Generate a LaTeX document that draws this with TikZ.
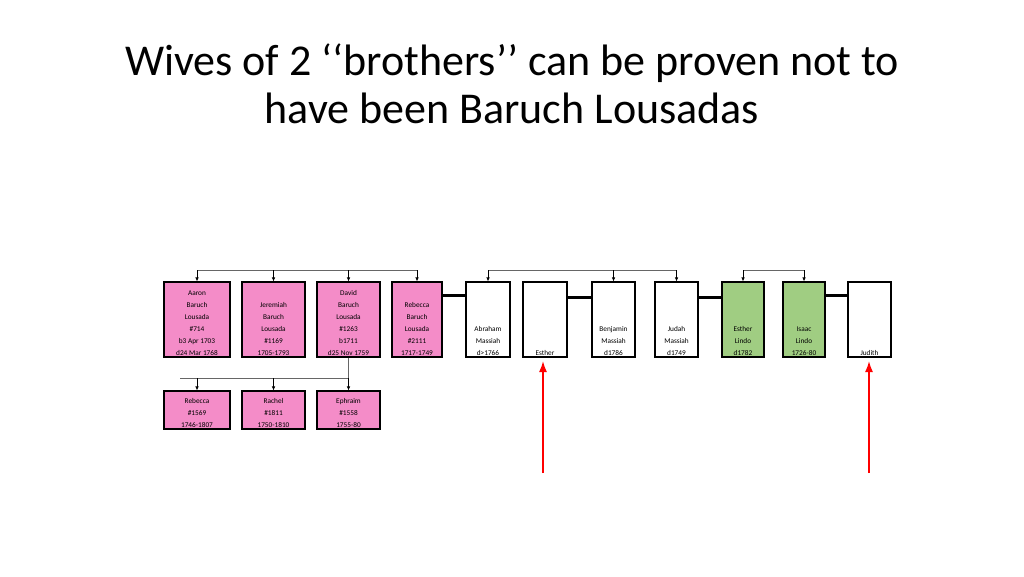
\documentclass[tikz,border=0pt]{standalone}
\usepackage{fontspec}
\setmainfont{Carlito}
\usetikzlibrary{positioning,arrows.meta}
\definecolor{lpink}{RGB}{244,140,200}
\definecolor{lgreen}{RGB}{160,205,130}
\begin{document}
\begin{tikzpicture}[x=1pt, y=-1pt,
    person/.style={rectangle, draw, line width=1.1pt, fill=lpink, minimum height=75pt, inner sep=0pt},
    plain/.style={person, fill=white},
    lindo/.style={person, fill=lgreen},
    kid/.style={person, minimum height=38pt},
    txt/.style={anchor=south, align=center, font=\fontsize{7.3}{12}\selectfont, inner sep=2pt},
    conn/.style={gray!80!black, line width=0.7pt},
    arrow/.style={conn, -{Latex[length=4pt,width=3.5pt]}, black},
    wed/.style={line width=3pt},
    pointer/.style={-{Latex[length=11pt,width=8pt]}, red, line width=1.6pt}
]
\useasboundingbox (0,0) rectangle (1024,576);
% Title
\node[font=\fontsize{44}{48}\selectfont, align=center] (title) at (512,84)
  {Wives of 2 \textquoteleft\textquoteleft brothers\textquoteright\textquoteright\ can be proven not to\\have been Baruch Lousadas};

% Baruch Lousada children
\node[person, minimum width=66pt] (aaron) at (197,319.5) {};
\node[txt] (aarontxt) at (aaron.south) {Aaron\\Baruch\\Lousada\\\#714\\b3 Apr 1703\\d24 Mar 1768};
\node[person, minimum width=63pt] (jeremiah) at (273.5,319.5) {};
\node[txt] (jeremiahtxt) at (jeremiah.south) {Jeremiah\\Baruch\\Lousada\\\#1169\\1705-1793};
\node[person, minimum width=63pt] (david) at (348.5,319.5) {};
\node[txt] (davidtxt) at (david.south) {David\\Baruch\\Lousada\\\#1263\\b1711\\d25 Nov 1759};
\node[person, minimum width=50pt] (rebecca) at (417,319.5) {};
\node[txt] (rebeccatxt) at (rebecca.south) {Rebecca\\Baruch\\Lousada\\\#2111\\1717-1749};

% Massiah and Lindo rows
\node[plain, minimum width=44pt] (abraham) at (488,319.5) {};
\node[txt] (abrahamtxt) at (abraham.south) {Abraham\\Massiah\\d>1766};
\node[plain, minimum width=44pt] (esther) at (545,319.5) {};
\node[txt] (esthertxt) at (esther.south) {Esther};
\node[plain, minimum width=43pt] (benjamin) at (613.5,319.5) {};
\node[txt] (benjamintxt) at (benjamin.south) {Benjamin\\Massiah\\d1786};
\node[plain, minimum width=43pt] (judah) at (676.5,319.5) {};
\node[txt] (judahtxt) at (judah.south) {Judah\\Massiah\\d1749};
\node[lindo, minimum width=42pt] (estherl) at (743,319.5) {};
\node[txt] (estherltxt) at (estherl.south) {Esther\\Lindo\\d1782};
\node[lindo, minimum width=42pt] (isaac) at (804,319.5) {};
\node[txt] (isaactxt) at (isaac.south) {Isaac\\Lindo\\1726-80};
\node[plain, minimum width=43pt] (judith) at (869.5,319.5) {};
\node[txt] (judithtxt) at (judith.south) {Judith};

% David's children
\node[kid, minimum width=66pt] (rebeccak) at (197,410) {};
\node[txt] (rebeccaktxt) at (rebeccak.south) {Rebecca\\\#1569\\1746-1807};
\node[kid, minimum width=63pt] (rachel) at (273.5,410) {};
\node[txt] (racheltxt) at (rachel.south) {Rachel\\\#1811\\1750-1810};
\node[kid, minimum width=63pt] (ephraim) at (348.5,410) {};
\node[txt] (ephraimtxt) at (ephraim.south) {Ephraim\\\#1558\\1755-80};

% sibling brackets
\coordinate (top) at (0,270);
\draw[conn] (aaron.north |- top) -- (rebecca.north |- top);
\draw[conn] (abraham.north |- top) -- (judah.north |- top);
\draw[conn] (estherl.north |- top) -- (isaac.north |- top);
\foreach \n in {aaron,jeremiah,david,rebecca,abraham,benjamin,judah,estherl,isaac}
  \draw[arrow] (\n.north |- top) -- (\n.north);
\coordinate (low) at (180,378);
\draw[conn] (david.south) -- (david.south |- low) -- (low);
\foreach \n in {rebeccak,rachel,ephraim}
  \draw[arrow] (\n.north |- low) -- (\n.north);

% marriages
\draw[wed] (rebecca.east |- 0,295) -- (abraham.west |- 0,295);
\draw[wed] (esther.east |- 0,297) -- (benjamin.west |- 0,297);
\draw[wed] (judah.east |- 0,297) -- (estherl.west |- 0,297);
\draw[wed] (isaac.east |- 0,295) -- (judith.west |- 0,295);

% pointers
\coordinate (p1) at (543,473);
\coordinate (p2) at (869,473);
\draw[pointer] (p1) -- (p1 |- 0,361);
\draw[pointer] (p2) -- (p2 |- 0,361);
\end{tikzpicture}
\end{document}
